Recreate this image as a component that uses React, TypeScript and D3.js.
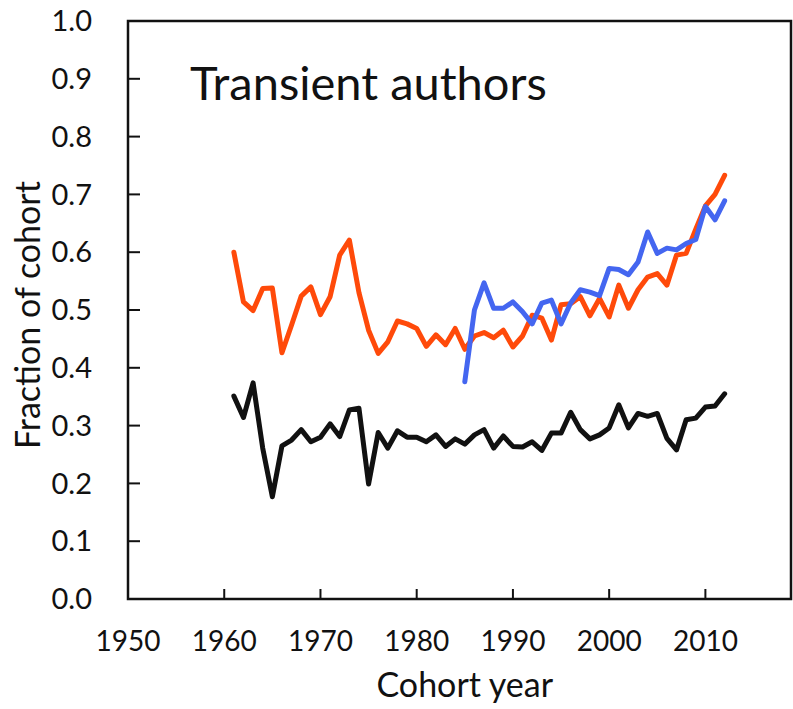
import React from 'react'
import * as d3 from 'd3'

// cohort years and the three series (fraction of cohort)
const years = [
  1961, 1962, 1963, 1964, 1965, 1966, 1967, 1968, 1969, 1970,
  1971, 1972, 1973, 1974, 1975, 1976, 1977, 1978, 1979, 1980,
  1981, 1982, 1983, 1984, 1985, 1986, 1987, 1988, 1989, 1990,
  1991, 1992, 1993, 1994, 1995, 1996, 1997, 1998, 1999, 2000,
  2001, 2002, 2003, 2004, 2005, 2006, 2007, 2008, 2009, 2010,
  2011, 2012
]

const orangeValues = [
  0.600, 0.514, 0.499, 0.537, 0.538, 0.426, 0.474, 0.524, 0.540, 0.492,
  0.523, 0.595, 0.621, 0.530, 0.465, 0.425, 0.445, 0.481, 0.476, 0.468,
  0.437, 0.457, 0.440, 0.468, 0.432, 0.455, 0.461, 0.452, 0.465, 0.436,
  0.455, 0.491, 0.486, 0.448, 0.509, 0.511, 0.523, 0.490, 0.520, 0.488,
  0.543, 0.503, 0.535, 0.557, 0.563, 0.543, 0.595, 0.598, 0.640, 0.680,
  0.700, 0.733
]

const blueYears = years.slice(24) // 1985 onwards
const blueValues = [
  0.376, 0.500, 0.547, 0.503, 0.503, 0.514, 0.497, 0.476, 0.512, 0.517,
  0.476, 0.512, 0.535, 0.531, 0.525, 0.572, 0.570, 0.561, 0.583, 0.635,
  0.598, 0.607, 0.604, 0.615, 0.622, 0.679, 0.656, 0.689
]

const blackValues = [
  0.351, 0.314, 0.374, 0.261, 0.177, 0.265, 0.275, 0.293, 0.272, 0.280,
  0.303, 0.281, 0.327, 0.330, 0.199, 0.288, 0.261, 0.291, 0.280, 0.280,
  0.272, 0.284, 0.264, 0.277, 0.268, 0.284, 0.293, 0.261, 0.282, 0.264,
  0.263, 0.272, 0.257, 0.287, 0.287, 0.323, 0.293, 0.277, 0.284, 0.296,
  0.336, 0.296, 0.321, 0.316, 0.321, 0.278, 0.258, 0.310, 0.313, 0.332,
  0.334, 0.355
]

const xTicks = [1950, 1960, 1970, 1980, 1990, 2000, 2010]
const yTicks = [0, 0.1, 0.2, 0.3, 0.4, 0.5, 0.6, 0.7, 0.8, 0.9, 1.0]

const W = 793
const H = 709
const plot = { left: 128, right: 792, top: 21, bottom: 599 }
const font = 'Lato, "Open Sans", sans-serif'

const App = () => {
  const x = d3.scaleLinear().domain([1950, 2019]).range([plot.left, plot.right])
  const y = d3.scaleLinear().domain([0, 1]).range([plot.bottom, plot.top])

  const line = d3.line<[number, number]>()
    .x(d => x(d[0]))
    .y(d => y(d[1]))

  const series = [
    { key: 'orange', color: '#ff4a0a', pts: years.map((yr, i) => [yr, orangeValues[i]] as [number, number]) },
    { key: 'blue', color: '#4466f0', pts: blueYears.map((yr, i) => [yr, blueValues[i]] as [number, number]) },
    { key: 'black', color: '#111111', pts: years.map((yr, i) => [yr, blackValues[i]] as [number, number]) }
  ]

  return (
    <svg width={W} height={H} style={{ position: 'absolute', left: 0, top: 0, background: '#fff' }}>
      {/* series, black drawn last like the reference */}
      {series.map(s => (
        <path key={s.key} d={line(s.pts) || ''} fill='none' stroke={s.color}
          strokeWidth={5} strokeLinejoin='round' strokeLinecap='round' />
      ))}

      {/* frame */}
      <rect x={plot.left} y={plot.top} width={plot.right - plot.left - 1} height={plot.bottom - plot.top}
        fill='none' stroke='#111' strokeWidth={2.5} />

      {/* y axis */}
      {yTicks.map(t => (
        <g key={t}>
          <line x1={plot.left} x2={plot.left + 12} y1={y(t)} y2={y(t)} stroke='#111' strokeWidth={2} />
          <text x={92} y={y(t)} dy='0.35em' textAnchor='end' fontFamily={font} fontSize={29} fill='#111'>
            {d3.format('.1f')(t)}
          </text>
        </g>
      ))}

      {/* x axis */}
      {xTicks.map(t => (
        <g key={t}>
          <line x1={x(t)} x2={x(t)} y1={plot.bottom} y2={plot.bottom - 10} stroke='#111' strokeWidth={2} />
          <text x={x(t)} y={651} textAnchor='middle' fontFamily={font} fontSize={28} fill='#111'>{t}</text>
        </g>
      ))}

      <text x={x(1985)} y={697} textAnchor='middle' fontFamily={font} fontSize={34} fill='#111'>Cohort year</text>
      <text transform={`translate(40, ${(plot.top + plot.bottom) / 2 + 5}) rotate(-90)`} textAnchor='middle'
        fontFamily={font} fontSize={34} fill='#111'>Fraction of cohort</text>

      <text x={190} y={100} fontFamily={font} fontSize={47} fill='#111'>Transient authors</text>
    </svg>
  )
}

export default App
